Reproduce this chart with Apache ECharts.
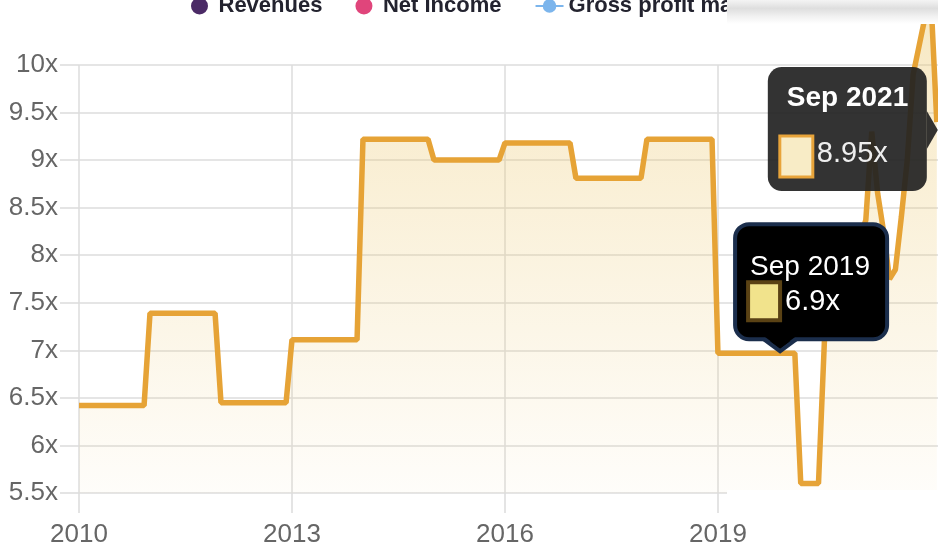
<!DOCTYPE html>
<html><head><meta charset="utf-8">
<script src="https://cdn.jsdelivr.net/npm/echarts@6/dist/echarts.min.js"></script>
<style>html,body{margin:0;padding:0;background:#fff}#c{width:938px;height:554px}</style>
</head><body><div id="c"></div>
<script>
// ---- data ----
const months = ['2010-01','2010-12','2011-01','2011-12','2012-01','2012-12','2013-01','2013-12',
  '2014-01','2014-12','2015-01','2015-12','2016-01','2016-12','2017-01','2017-12','2018-01','2018-12',
  '2019-01','2019-11','2020-02','2020-03','2020-06','2020-07','2021-02','2021-03','2021-04','2021-05',
  '2021-06','2021-07','2021-08','2021-09','2021-10','2021-11','2021-12','2022-01','2022-02'];
const peValues = [6.42,6.42,7.39,7.39,6.45,6.45,7.11,7.11,
  9.22,9.22,9.0,9.0,9.18,9.18,8.81,8.81,9.22,9.22,
  6.97,6.97,6.97,5.6,5.6,7.1,8.37,9.3,8.65,8.25,
  7.75,7.85,8.4,9.0,9.9,10.2,10.5,10.7,9.4];
const xTicks = [2010, 2013, 2016, 2019];
const legendNames = ['Revenues','Net Income','Gross profit margin'];
const legendColors = ['#4b2a66','#e0457b','#7cb5ec'];
const tipDates = ['2019-11','2022-02'];
const tipTitles = ['Sep 2019','Sep 2021'];
const tipTexts = ['6.9x','8.95x'];

function toYear(s){ const p = s.split('-'); return +p[0] + (+p[1]-1)/12; }
const lineData = months.map((m,i)=>[toYear(m), peValues[i]]);

const chart = echarts.init(document.getElementById('c'));
const FONT = 'Liberation Sans, Arial, sans-serif';
const gridColor = '#dcdcdc';

chart.setOption({
  animation:false,
  backgroundColor:'#fff',
  grid:{left:79, right:0, top:65, bottom:61},
  legend:{
    left:186, top:-10, itemGap:33, itemWidth:28, itemHeight:17,
    data:[{name:legendNames[0],icon:'circle'},{name:legendNames[1],icon:'circle'},{name:legendNames[2]}],
    textStyle:{fontSize:22, fontWeight:'bold', color:'#23232f', fontFamily:FONT}
  },
  xAxis:{
    type:'value', min:2010, max:2022.1,
    axisLine:{show:false},
    axisTick:{show:true, customValues:xTicks, length:20, lineStyle:{color:gridColor, width:1.5}},
    axisLabel:{customValues:xTicks, margin:29, fontSize:26, color:'#666', fontFamily:FONT,
      formatter:v=> v<=2019.5 ? String(v) : ''},
    splitLine:{show:true, lineStyle:{color:gridColor, width:1.5}}
  },
  yAxis:{
    type:'value', min:5.5, max:10, interval:0.5,
    axisLine:{show:false},
    axisTick:{show:true, length:19, lineStyle:{color:gridColor, width:1.5}},
    axisLabel:{margin:21, fontSize:26, color:'#666', fontFamily:FONT, formatter:v=>v+'x'},
    splitLine:{lineStyle:{color:gridColor, width:1.5}}
  },
  series:[
    {name:legendNames[0], type:'line', data:[], color:legendColors[0]},
    {name:legendNames[1], type:'line', data:[], color:legendColors[1]},
    {name:legendNames[2], type:'line', data:[], color:legendColors[2], symbol:'circle', symbolSize:10},
    {name:'PE', type:'line', data:lineData, showSymbol:false, clip:false, z:3, silent:true,
      lineStyle:{color:'#e6a336', width:5.5},
      itemStyle:{color:'#e6a336'},
      areaStyle:{color:new echarts.graphic.LinearGradient(0,0,0,1,[
        {offset:0, color:'rgba(236,200,110,0.6)'},
        {offset:1, color:'rgba(236,200,110,0.05)'}])}
    }
  ]
});

function anchor(i){
  const idx = months.indexOf(tipDates[i]);
  return chart.convertToPixel({gridIndex:0}, [toYear(months[idx]), peValues[idx]]);
}
const p1 = anchor(0), p2 = anchor(1);
const Z = 100;

chart.setOption({graphic:[
  // collage overlay: white strip bottom-right and grey band over legend
  {type:'rect', z:Z, shape:{x:727, y:490, width:211, height:30}, style:{fill:'#fff'}},
  {type:'rect', z:Z, shape:{x:727, y:0, width:211, height:24},
    style:{fill:new echarts.graphic.LinearGradient(0,0,0,1,[
      {offset:0,color:'#f4f4f4'},{offset:0.35,color:'#dedede'},{offset:0.7,color:'#f2f2f2'},{offset:1,color:'#fff'}])}},
  // tooltip 1
  {type:'group', x:p1[0], y:p1[1], children:[
    {type:'polygon', z:Z, shape:{points:[[-16,-16],[22,-16],[3,-2]]}, style:{fill:'#000', stroke:'#1b2e4c', lineWidth:4}},
    {type:'rect', z:Z, shape:{x:-42, y:-129, width:152, height:115, r:14}, style:{fill:'#000', stroke:'#1b2e4c', lineWidth:4}},
    {type:'polygon', z:Z, shape:{points:[[-13,-17],[19,-17],[3,-5]]}, style:{fill:'#000'}},
    {type:'rect', z:Z, shape:{x:-29, y:-71, width:32, height:38}, style:{fill:'#f1e38c', stroke:'#5a4214', lineWidth:4}},
    {type:'text', z:Z, x:-27, y:-86, style:{text:tipTitles[0], fill:'#fff', font:'28px '+FONT, verticalAlign:'middle'}},
    {type:'text', z:Z, x:8, y:-51, style:{text:tipTexts[0], fill:'#fff', font:'29px '+FONT, verticalAlign:'middle'}}
  ]},
  // tooltip 2
  {type:'group', x:p2[0], y:p2[1], children:[
    {type:'rect', z:Z, shape:{x:-169, y:-55, width:159, height:124, r:14}, style:{fill:'rgba(34,34,34,0.92)'}},
    {type:'polygon', z:Z, shape:{points:[[-10,-11],[-10,27],[1,8]]}, style:{fill:'rgba(34,34,34,0.92)'}},
    {type:'text', z:Z, x:-150, y:-24, style:{text:tipTitles[1], fill:'#fff', font:'bold 28px '+FONT, verticalAlign:'middle'}},
    {type:'rect', z:Z, shape:{x:-157, y:14, width:33, height:41}, style:{fill:'#f8ecc6', stroke:'#e8a43a', lineWidth:3}},
    {type:'text', z:Z, x:-120, y:32, style:{text:tipTexts[1], fill:'#eee', font:'29px '+FONT, verticalAlign:'middle'}}
  ]}
]});
</script></body></html>
